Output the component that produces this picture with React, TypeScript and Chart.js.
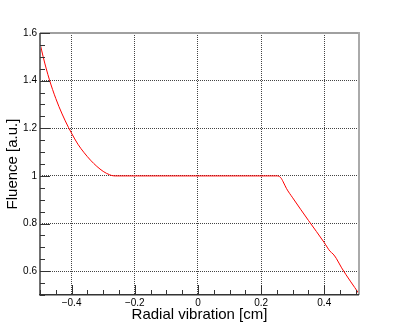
import React, { useEffect, useRef } from 'react';
import { Chart, registerables } from 'chart.js';

Chart.register(...registerables);

// Curve
const xValues = [
  -0.5, -0.49, -0.48, -0.47, -0.46, -0.45, -0.44, -0.43, -0.42, -0.41, -0.4,
  -0.38, -0.36, -0.34, -0.32, -0.3, -0.28, -0.265,
  0.0, 0.25, 0.262, 0.27, 0.28, 0.3, 0.35, 0.4, 0.418, 0.428, 0.438, 0.455, 0.51,
];
const yValues = [
  1.557, 1.5, 1.449, 1.403, 1.362, 1.325, 1.291, 1.26, 1.231, 1.204, 1.179,
  1.133, 1.097, 1.066, 1.04, 1.019, 1.005, 1.0,
  1.0, 1.0, 0.993, 0.975, 0.948, 0.908, 0.813, 0.72, 0.684, 0.672, 0.654, 0.614, 0.505,
];

const xTicks = [-0.4, -0.2, 0, 0.2, 0.4];
const xTickLabels = ['\u22120.4', '\u22120.2', '0', '0.2', '0.4'];
const yTicks = [0.6, 0.8, 1, 1.2, 1.4, 1.6];
const yTickLabels = ['0.6', '0.8', '1', '1.2', '1.4', '1.6'];

const xMin = -0.5;
const xMax = 0.51;
const yMin = 0.5;
const yMax = 1.6;
const minorStep = 0.05;

const xTitle = 'Radial vibration [cm]';
const yTitle = 'Fluence [a.u.]';

const FONT = "'Liberation Sans', Arial, Helvetica, sans-serif";

const rootFrame = {
  id: 'rootFrame',
  afterDraw(chart: any) {
    const { ctx, chartArea } = chart;
    const { left, right, top, bottom } = chartArea;
    const xs = chart.scales.x;
    const ys = chart.scales.y;
    ctx.save();
    // frame
    ctx.fillStyle = '#a0a0a0';
    ctx.fillRect(left, top - 1, right - left, 2);
    ctx.fillStyle = '#aaaaaa';
    ctx.fillRect(right - 1, top - 1, 2, bottom - top + 1);
    ctx.fillStyle = '#707070';
    ctx.fillRect(left - 1, top, 2, bottom - top);
    ctx.fillStyle = '#333333';
    ctx.fillRect(left - 1, bottom - 1, right - left + 1, 1.5);

    ctx.strokeStyle = '#333333';
    ctx.lineWidth = 1;
    // x ticks (inside)
    const nx = Math.round((xMax - xMin) / minorStep);
    for (let i = 0; i <= nx; i++) {
      const v = xMin + i * minorStep;
      if (v > xMax + 1e-9) break;
      const isMajor = xTicks.some((t) => Math.abs(t - v) < 1e-6);
      const px = Math.round(xs.getPixelForValue(v)) + 0.5;
      const len = isMajor ? 10 : 5;
      ctx.beginPath();
      ctx.moveTo(px, bottom);
      ctx.lineTo(px, bottom - len);
      ctx.stroke();
    }
    // y ticks (inside)
    const ny = Math.round((yMax - yMin) / minorStep);
    for (let i = 0; i <= ny; i++) {
      const v = yMin + i * minorStep;
      const isMajor = yTicks.some((t) => Math.abs(t - v) < 1e-6);
      const py = Math.round(ys.getPixelForValue(v)) + 0.5;
      const len = isMajor ? 10 : 5;
      ctx.beginPath();
      ctx.moveTo(left, py);
      ctx.lineTo(left + len, py);
      ctx.stroke();
    }
    ctx.restore();
  },
};

export default function App() {
  const ref = useRef<HTMLCanvasElement | null>(null);

  useEffect(() => {
    if (!ref.current) return;
    const data = xValues.map((x, i) => ({ x, y: yValues[i] }));
    const chart = new Chart(ref.current, {
      type: 'line',
      data: {
        datasets: [
          {
            data,
            borderColor: '#ff0000',
            borderWidth: 1,
            pointRadius: 0,
            fill: false,
            cubicInterpolationMode: 'monotone',
          },
        ],
      },
      options: {
        animation: false,
        responsive: false,
        events: [],
        layout: { padding: { top: 33, right: 40, left: 0, bottom: 0 } },
        plugins: { legend: { display: false }, tooltip: { enabled: false } },
        scales: {
          x: {
            type: 'linear',
            min: xMin,
            max: xMax,
            afterBuildTicks: (s: any) => {
              s.ticks = xTicks.map((v) => ({ value: v }));
            },
            afterFit: (s: any) => {
              s.height = 33;
            },
            ticks: {
              padding: 2,
              maxRotation: 0,
              autoSkip: false,
              color: '#000',
              font: { family: FONT, size: 10 },
              callback: (_v: any, i: number) => xTickLabels[i],
            },
            grid: { color: '#444', lineWidth: 1, drawTicks: false },
            border: { display: false, dash: [1, 1] },
            title: {
              display: true,
              text: xTitle,
              color: '#000',
              font: { family: FONT, size: 15 },
              padding: { top: 0, bottom: 4 },
            },
          },
          y: {
            type: 'linear',
            min: yMin,
            max: yMax,
            afterBuildTicks: (s: any) => {
              s.ticks = yTicks.map((v) => ({ value: v }));
            },
            afterFit: (s: any) => {
              s.width = 40;
            },
            ticks: {
              padding: 3,
              autoSkip: false,
              color: '#000',
              font: { family: FONT, size: 10 },
              callback: (_v: any, i: number) => yTickLabels[i],
            },
            grid: { color: '#444', lineWidth: 1, drawTicks: false },
            border: { display: false, dash: [1, 1] },
            title: {
              display: true,
              text: yTitle,
              color: '#000',
              font: { family: FONT, size: 15 },
              padding: { top: 4, bottom: 0 },
            },
          },
        },
      },
      plugins: [rootFrame],
    } as any);
    return () => chart.destroy();
  }, []);

  return (
    <div style={{ position: 'absolute', left: 0, top: 0, width: 399, height: 328, background: '#fff' }}>
      <canvas ref={ref} width={399} height={328} style={{ display: 'block' }} />
    </div>
  );
}
